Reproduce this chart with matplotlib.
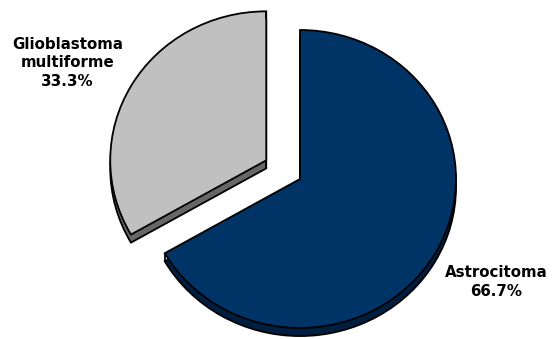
import numpy as np
import matplotlib
matplotlib.use("Agg")
import matplotlib.pyplot as plt

labels = ["Astrocitoma", "Glioblastoma\nmultiforme"]
values = [66.7, 33.3]
explode = [0, 0.25]
top_colors = ["#003366", "#C0C0C0"]
side_colors = ["#001F40", "#676767"]

depth = 0.054

fig = plt.figure(figsize=(5.52, 3.39), dpi=100)
ax = fig.add_axes([0, 0, 1, 1])

wp = dict(edgecolor="black", linewidth=1.3, joinstyle="miter")

# extruded side: same pie pushed down a little, darker
ax.pie(values, explode=explode, startangle=90, counterclock=False,
       colors=side_colors, center=(0, -depth), wedgeprops=wp)
wedges, _ = ax.pie(values, explode=explode, startangle=90, counterclock=False,
                   colors=top_colors, center=(0, 0), wedgeprops=wp)

# vertical edges at the visible corners
def corner(w, ang):
    cx, cy = w.center
    a = np.deg2rad(ang)
    return cx + w.r * np.cos(a), cy + w.r * np.sin(a)

astro, glio = wedges
pts = [glio.center, corner(glio, glio.theta1), corner(astro, astro.theta1)]
for x, y in pts:
    ax.plot([x, x], [y, y - depth], color="black", lw=1.3, solid_capstyle="butt")

pct = [f"{v:.1f}%" for v in values]
tkw = dict(ha="center", va="center", fontsize=10.8, fontweight="bold",
           family="DejaVu Sans", linespacing=1.3, color="black")
ax.text(-1.49, 0.78, f"{labels[1]}\n{pct[1]}", **tkw)
ax.text(1.257, -0.69, f"{labels[0]}\n{pct[0]}", **tkw)

# slightly wider than tall, as the chart was drawn
sx, sy = 156.0, 149.0
ax.set_xlim(-300 / sx, 252 / sx)
ax.set_ylim(-(339 - 179) / sy, 179 / sy)
ax.set_aspect("auto")
ax.axis("off")

fig.savefig("out.png", dpi=100)
